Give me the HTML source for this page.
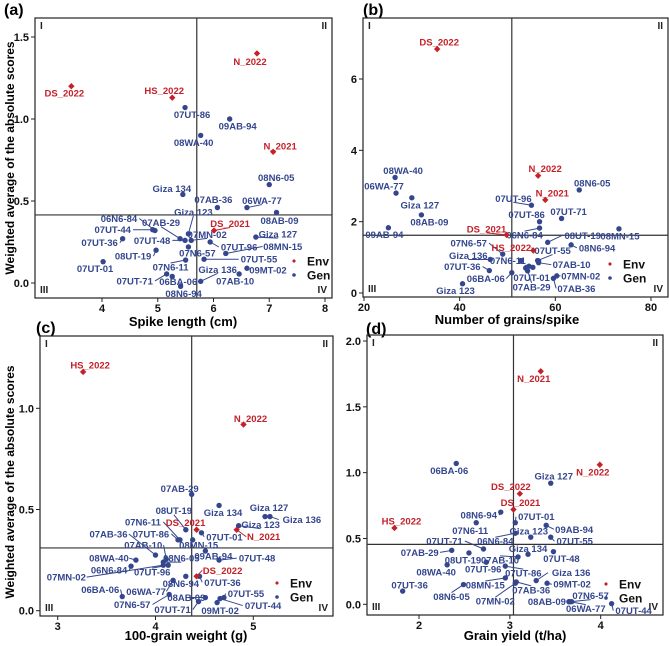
<!DOCTYPE html>
<html><head><meta charset="utf-8">
<style>
html,body{margin:0;padding:0;background:#fff;}
svg{display:block;font-family:"Liberation Sans",Arial,sans-serif;}
</style></head>
<body>
<svg id="chart" width="669" height="646" viewBox="0 0 669 646" xmlns="http://www.w3.org/2000/svg">
<text x="4" y="15" font-size="16" font-weight="bold">(a)</text>
<text x="363" y="15" font-size="16" font-weight="bold">(b)</text>
<text x="36" y="333" font-size="16" font-weight="bold">(c)</text>
<text x="366" y="334" font-size="16" font-weight="bold">(d)</text>
<text x="183" y="326" font-size="13" font-weight="bold" text-anchor="middle">Spike length (cm)</text>
<text x="507" y="324" font-size="13" font-weight="bold" text-anchor="middle">Number of grains/spike</text>
<text x="186" y="640" font-size="13" font-weight="bold" text-anchor="middle">100-grain weight (g)</text>
<text x="515" y="640" font-size="13" font-weight="bold" text-anchor="middle">Grain yield (t/ha)</text>
<text transform="translate(14,158) rotate(-90)" font-size="12" font-weight="bold" text-anchor="middle">Weighted average of the absolute scores</text>
<text transform="translate(14,482) rotate(-90)" font-size="12" font-weight="bold" text-anchor="middle">Weighted average of the absolute scores</text>
</svg>
<script>
// ---------- Panel A: spike length ----------
const aEnvNames=["DS_2022","HS_2022","N_2022","N_2021","DS_2021"];
const aEnvX=[3.45,5.26,6.78,7.07,6.01];
const aEnvY=[1.20,1.13,1.40,0.80,0.32];
const aEnvDx=[-7,-8,-7,7,16];
const aEnvDy=[7,-7,8,-6,-7];
const aGenNames=["07UT-86","09AB-94","08WA-40","08N6-05","Giza 134","07AB-36","06WA-77","08AB-09","Giza 123","06N6-84","07UT-44","07AB-29","07UT-48","07MN-02","07UT-36","07UT-96","08MN-15","Giza 127","08UT-19","07N6-57","07N6-11","07UT-55","07UT-01","Giza 136","09MT-02","07AB-10","07UT-71","06BA-06","08N6-94"];
const aGenX=[5.49,6.29,5.77,7.00,5.45,6.07,6.60,7.13,5.55,4.95,4.91,5.40,5.49,5.60,4.37,5.94,6.22,6.76,4.97,5.55,5.50,5.83,4.02,5.77,6.60,6.46,5.16,5.26,5.41];
const aGenY=[1.07,1.00,0.90,0.60,0.54,0.46,0.46,0.43,0.30,0.32,0.325,0.27,0.26,0.26,0.27,0.25,0.18,0.28,0.20,0.22,0.14,0.145,0.13,0.01,0.09,0.055,0.055,0.04,-0.02];
const aGenDx=[7,8,-7,7,-11,-4,15,3,5,-36,-40,-19,-33,16,-23,29,57,22,-23,9,-15,55,-8,17,21,-4,-32,6,3];
const aGenDy=[7,7,7,-7,-6,-8,-7,8,-22,-12,0,-16,0,-6,4,5,-7,-3,6,6,7,0,7,-12,2,7,7,5,7];
const aXTicks=[4,5,6,7,8];
const aYTicks=["0.0","0.5","1.0","1.5"];
const aRef=[5.7,0.415];

// ---------- Panel B: grains/spike ----------
const bEnvNames=["DS_2022","N_2022","N_2021","DS_2021","HS_2022"];
const bEnvX=[35.3,56.4,57.9,49.8,55.4];
const bEnvY=[6.84,3.29,2.61,1.63,1.19];
const bEnvDx=[2,7,7,-20,-22];
const bEnvDy=[-7,-7,-7,-6,-3];
const bGenNames=["08WA-40","06WA-77","Giza 127","08AB-09","09AB-94","08N6-05","07UT-96","07UT-86","07UT-71","06N6-84","08MN-15","08UT-19","08N6-94","07N6-57","07UT-55","Giza 136","07N6-11","07AB-10","07UT-36","06BA-06","07UT-01","07AB-29","07MN-02","07AB-36","Giza 123","Giza 134","07UT-44","07UT-48","09MT-02"];
const bGenX=[26.5,26.7,30.0,32.0,25.1,65.0,55.0,56.7,61.3,56.7,73.3,58.4,63.3,49.0,56.3,46.4,52.8,56.5,46.2,50.9,54.0,54.2,60.3,59.6,40.6,54.5,55.3,53.8,56.5];
const bGenY=[3.24,2.80,2.67,2.19,1.83,2.89,2.46,2.00,2.09,1.82,1.80,1.42,1.35,1.09,0.91,0.94,0.91,0.85,0.63,0.57,0.72,0.62,0.48,0.41,0.26,0.75,0.72,0.70,0.90];
const bGenDx=[8,-12,8,8,-4,13,-18,-13,7,-15,1,35,26,-34,15,-22,-13,33,-27,-26,5,4,24,23,-7,null,null,null,null];
const bGenDy=[-7,-7,7,7,7,-7,-7,-7,-7,7,7,-7,3,-11,-10,-4,0,2,-4,6,10,16,0,10,7,null,null,null,null];
const bXTicks=[20,40,60,80];
const bYTicks=["0","2","4","6"];
const bRef=[50.9,1.62];

// ---------- Panel C: 100-grain weight ----------
const cEnvNames=["HS_2022","N_2022","DS_2021","N_2021","DS_2022"];
const cEnvX=[3.26,4.90,4.42,4.83,4.42];
const cEnvY=[1.18,0.92,0.40,0.40,0.17];
const cEnvDx=[7,7,-11,27,26];
const cEnvDy=[-7,-6,-7,7,-6];
const cGenNames=["07AB-29","Giza 134","Giza 127","Giza 136","Giza 123","08UT-19","07UT-01","07N6-11","07UT-86","08MN-15","07AB-36","07AB-10","09AB-94","07UT-48","08WA-40","08N6-05","06N6-84","07UT-96","07MN-02","08N6-94","07UT-36","06WA-77","06BA-06","07N6-57","08AB-09","07UT-71","07UT-55","07UT-44","09MT-02"];
const cGenX=[4.37,4.65,5.12,5.17,4.85,4.31,4.47,4.25,4.23,4.38,4.00,4.11,4.51,4.65,3.80,4.08,3.75,4.13,4.08,4.31,4.45,4.18,3.66,4.14,4.51,4.44,4.70,4.66,4.63];
const cGenY=[0.575,0.52,0.465,0.465,0.42,0.40,0.385,0.35,0.35,0.35,0.275,0.255,0.295,0.25,0.25,0.24,0.22,0.225,0.225,0.17,0.17,0.15,0.07,0.08,0.065,0.045,0.065,0.06,0.04];
const cGenDx=[-12,4,4,32,22,-12,23,-37,-27,6,-47,-23,8,38,-27,18,-22,-16,-97,-5,23,-27,-22,-37,-19,-26,22,43,3];
const cGenDy=[-6,7,-9,3,-1,-19,4,-18,-6,5,-21,-14,5,-2,-2,-4,4,7,12,7,6,11,-7,10,0,8,-4,7,8];
const cXTicks=[3,4,5];
const cYTicks=["0.0","0.5","1.0"];
const cRef=[4.37,0.31];

// ---------- Panel D: grain yield ----------
const dEnvNames=["N_2021","N_2022","DS_2022","DS_2021","HS_2022"];
const dEnvX=[3.34,3.99,3.11,3.04,1.73];
const dEnvY=[1.77,1.06,0.84,0.72,0.58];
const dEnvDx=[-7,-7,-9,7,7];
const dEnvDy=[7,7,-7,-7,-7];
const dGenNames=["06BA-06","Giza 127","08N6-94","07N6-11","07UT-01","09AB-94","Giza 123","07UT-55","06N6-84","07UT-71","Giza 134","07UT-48","07AB-29","08UT-19","07AB-10","08WA-40","07UT-96","07UT-86","Giza 136","08MN-15","07AB-36","09MT-02","07UT-36","08N6-05","07MN-02","08AB-09","07N6-57","06WA-77","07UT-44"];
const dGenX=[2.41,3.45,2.90,2.63,3.06,3.40,3.23,3.45,3.06,2.71,3.20,3.48,2.36,2.55,3.09,2.31,2.74,2.95,3.29,2.95,3.07,3.41,1.82,2.49,3.06,3.65,3.68,3.66,4.12];
const dGenY=[1.07,0.92,0.70,0.62,0.62,0.60,0.51,0.51,0.54,0.42,0.38,0.40,0.41,0.39,0.36,0.30,0.32,0.29,0.18,0.20,0.17,0.16,0.10,0.15,0.16,0.02,0.02,0.02,0.005];
const dGenDx=[-7,3,-22,-6,21,28,-2,24,-20,-39,0,8,-32,-6,-18,-11,-3,18,35,-20,15,25,7,-12,-20,-22,19,16,22];
const dGenDy=[7,-7,3,8,-6,4,-6,4,8,-8,-6,7,2,7,3,7,7,7,-8,7,8,1,-6,12,18,0,-6,7,7];
const dXTicks=[2,3,4];
const dYTicks=["0.0","0.5","1.0","1.5","2.0"];
const dRef=[3.04,0.455];

const NS="http://www.w3.org/2000/svg";
const svg=document.getElementById('chart');
const BLUE="#34468e", RED="#c42129";
function mk(tag,attrs,parent){const e=document.createElementNS(NS,tag);for(const k in attrs)e.setAttribute(k,attrs[k]);(parent||svg).appendChild(e);return e;}

function panel(id,box,xs,ys,xt,yt,ref,env,gen,legend){
  const g=mk('g',{});
  
  
  const X=v=>xs[1]+(v-xs[0])*(xs[3]-xs[1])/(xs[2]-xs[0]);
  const Y=v=>ys[1]+(v-ys[0])*(ys[3]-ys[1])/(ys[2]-ys[0]);
  const frame=mk('rect',{x:box[0],y:box[1],width:box[2]-box[0],height:box[3]-box[1],fill:'none',stroke:'#222','stroke-width':1.2},g);
  
  
  xt.forEach(t=>{const px=X(+t);
    mk('line',{x1:px,x2:px,y1:box[3],y2:box[3]+4,stroke:'#222'},g);
    const tl=mk('text',{x:px,y:box[3]+14,'font-size':11,'font-weight':'bold','text-anchor':'middle',fill:'#111'},g);
    tl.textContent=t;
    
    
  });
  yt.forEach(t=>{const py=Y(+t);
    mk('line',{x1:box[0]-4,x2:box[0],y1:py,y2:py,stroke:'#222'},g);
    const tl=mk('text',{x:box[0]-6,y:py+4,'font-size':11,'font-weight':'bold','text-anchor':'end',fill:'#111'},g);
    tl.textContent=t;
    
    
  });
  const vl=mk('line',{x1:X(ref[0]),x2:X(ref[0]),y1:box[1],y2:box[3],stroke:'#333','stroke-width':1.2},g);
  
  
  const hl=mk('line',{x1:box[0],x2:box[2],y1:Y(ref[1]),y2:Y(ref[1]),stroke:'#333','stroke-width':1.2},g);
  
  
  [["I",box[0]+5,box[1]+11,'start'],["II",box[2]-5,box[1]+11,'end'],["III",box[0]+5,box[3]-5,'start'],["IV",box[2]-5,box[3]-5,'end']].forEach(q=>{
    const t=mk('text',{x:q[1],y:q[2],'font-size':10,'font-weight':'bold','text-anchor':q[3],fill:'#222'},g);
    t.textContent=q[0];
    
    
  });
  function series(s,color,isEnv){
    s.names.forEach((n,i)=>{
      const px=X(s.x[i]),py=Y(s.y[i]);
      const dx=s.dx[i],dy=s.dy[i];
      if(dx!==null&&dx!==undefined){
        const lx=px+dx,ly=py+dy;
        const hw=n.length*2.9;
        if(Math.hypot(dx,dy)>15){
          let ex,ey;
          if(Math.abs(dx)>hw){ex=lx-Math.sign(dx)*hw;ey=ly;}else{ex=lx;ey=ly-Math.sign(dy)*4;}
          const ln=mk('line',{x1:px,y1:py,x2:ex,y2:ey,stroke:color,'stroke-width':1},g);
          
          
        }
        const t=mk('text',{x:lx,y:ly+3.5,'font-size':9.5,'font-weight':'bold','text-anchor':'middle',fill:color},g);
        t.textContent=n;
        
        
      }
      const p=isEnv?mk('path',{d:`M${px},${py-3.2}L${px+3.2},${py}L${px},${py+3.2}L${px-3.2},${py}Z`,fill:color},g)
                   :mk('circle',{cx:px,cy:py,r:2.7,fill:color},g);
      
      
    });
  }
  series(gen,BLUE,false);
  series(env,RED,true);
  const lg=mk('g',{},g);
  
  
  const m1=mk('path',{d:`M${legend[0]},${legend[1]-2}L${legend[0]+2},${legend[1]}L${legend[0]},${legend[1]+2}L${legend[0]-2},${legend[1]}Z`,fill:RED},lg);
  
  
  const t1=mk('text',{x:legend[0]+13,y:legend[1]+4.5,'font-size':12,'font-weight':'bold',fill:'#111'},lg);
  t1.textContent='Env';
  
  
  const m2=mk('circle',{cx:legend[0],cy:legend[1]+14,r:1.8,fill:BLUE},lg);
  
  
  const t2=mk('text',{x:legend[0]+13,y:legend[1]+18.5,'font-size':12,'font-weight':'bold',fill:'#111'},lg);
  t2.textContent='Gen';
  
  
}

panel('a',[35,18,332,298],[4,102,8,325],[0,283,1.5,37],aXTicks,aYTicks,aRef,
  {names:aEnvNames,x:aEnvX,y:aEnvY,dx:aEnvDx,dy:aEnvDy},
  {names:aGenNames,x:aGenX,y:aGenY,dx:aGenDx,dy:aGenDy},[294,261]);
panel('b',[363,18,668,297],[20,364,80,651],[0,293,6,79],bXTicks,bYTicks,bRef,
  {names:bEnvNames,x:bEnvX,y:bEnvY,dx:bEnvDx,dy:bEnvDy},
  {names:bGenNames,x:bGenX,y:bGenY,dx:bGenDx,dy:bGenDy},[610,264]);
panel('c',[40,336,333,616],[3,57.7,5,253.3],[0,610.7,1,408.3],cXTicks,cYTicks,cRef,
  {names:cEnvNames,x:cEnvX,y:cEnvY,dx:cEnvDx,dy:cEnvDy},
  {names:cGenNames,x:cGenX,y:cGenY,dx:cGenDx,dy:cGenDy},[277,583]);
panel('d',[367,335,663,615],[2,419,4,600.7],[0,604.3,2,341],dXTicks,dYTicks,dRef,
  {names:dEnvNames,x:dEnvX,y:dEnvY,dx:dEnvDx,dy:dEnvDy},
  {names:dGenNames,x:dGenX,y:dGenY,dx:dGenDx,dy:dGenDy},[606,584]);
</script>
</body></html>
